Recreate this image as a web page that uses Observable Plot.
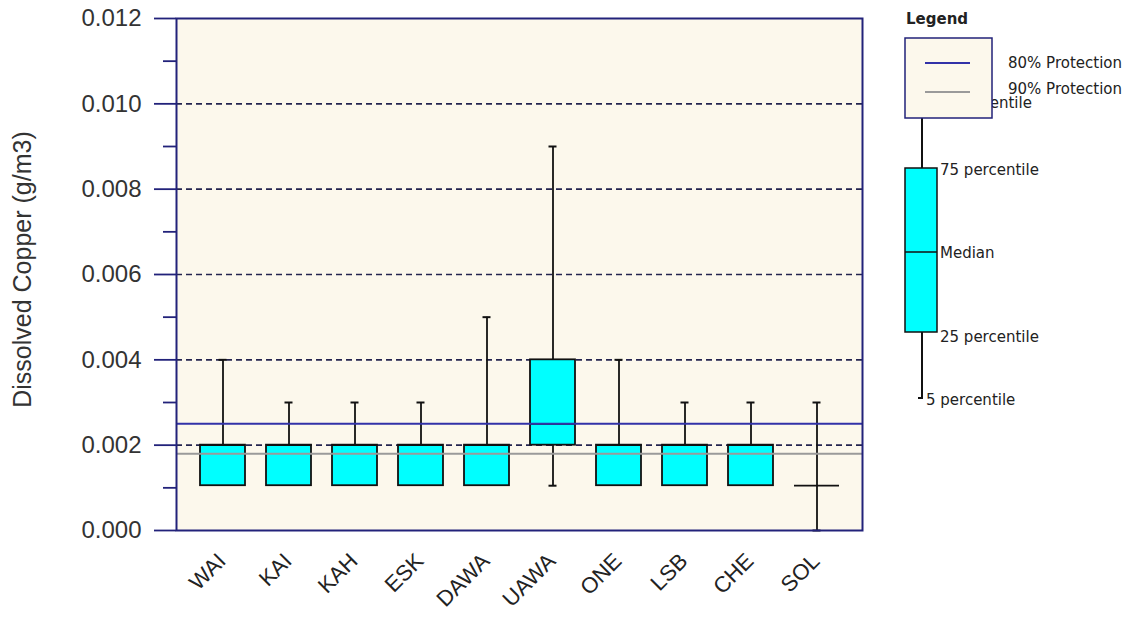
<!DOCTYPE html>
<html>
<head>
<meta charset="utf-8">
<script src="https://cdn.jsdelivr.net/npm/d3@7"></script>
<script src="https://cdn.jsdelivr.net/npm/@observablehq/plot@0.6"></script>
<style>
  html, body { margin: 0; padding: 0; background: #ffffff; }
  #wrap { position: relative; width: 1138px; height: 618px; font-family: "Liberation Sans", Arial, sans-serif; }
  #legend { position: absolute; left: 895px; top: 0px; }
</style>
</head>
<body>
<div id="wrap">
  <div id="chart"></div>
  <svg id="legend" width="243" height="420" font-family="DejaVu Sans, Verdana, sans-serif">
    <text x="11" y="24" font-size="15" font-weight="bold" fill="#222">Legend</text>
    <text x="38" y="108" font-size="15" fill="#222">95 percentile</text>
    <line x1="27" y1="118" x2="27" y2="398" stroke="#111" stroke-width="2"></line>
    <line x1="23" y1="398" x2="28" y2="398" stroke="#111" stroke-width="2"></line>
    <rect x="10" y="38" width="87" height="80" fill="#fcf8ec" stroke="#22227a" stroke-width="1.5"></rect>
    <line x1="30" y1="63" x2="75" y2="63" stroke="#3232a8" stroke-width="2"></line>
    <line x1="30" y1="92" x2="75" y2="92" stroke="#9a9a9a" stroke-width="2"></line>
    <text x="113" y="68" font-size="15" fill="#222">80% Protection</text>
    <text x="113" y="94" font-size="15" fill="#222">90% Protection</text>
    <rect x="10" y="168" width="32" height="164" fill="#00ffff" stroke="#111" stroke-width="1.5"></rect>
    <line x1="10" y1="252" x2="42" y2="252" stroke="#111" stroke-width="1.5"></line>
    <text x="45" y="175" font-size="15" fill="#222">75 percentile</text>
    <text x="45" y="258" font-size="15" fill="#222">Median</text>
    <text x="45" y="342" font-size="15" fill="#222">25 percentile</text>
    <text x="31" y="405" font-size="15" fill="#222">5 percentile</text>
  </svg>
</div>
<script>
// ---- data ----
const sites   = ["WAI", "KAI", "KAH", "ESK", "DAWA", "UAWA", "ONE", "LSB", "CHE", "SOL"];
const p5      = [0.00105, 0.00105, 0.00105, 0.00105, 0.00105, 0.00105, 0.00105, 0.00105, 0.00105, 0.0];
const q1      = [0.00105, 0.00105, 0.00105, 0.00105, 0.00105, 0.002, 0.00105, 0.00105, 0.00105, 0.00105];
const medians = [0.002, 0.002, 0.002, 0.002, 0.002, 0.0025, 0.002, 0.002, 0.002, 0.00105];
const q3      = [0.002, 0.002, 0.002, 0.002, 0.002, 0.004, 0.002, 0.002, 0.002, 0.00105];
const p95     = [0.004, 0.003, 0.003, 0.003, 0.005, 0.009, 0.004, 0.003, 0.003, 0.003];

const guideNames  = ["80% Protection", "90% Protection"];
const guideValues = [0.0025, 0.0018];
const guideColors = ["#3232a8", "#9a9a9a"];

const yMajorTicks = [0, 0.002, 0.004, 0.006, 0.008, 0.010, 0.012];
const yMinorTicks = [0.001, 0.003, 0.005, 0.007, 0.009, 0.011];
const gridValues  = [0.002, 0.004, 0.006, 0.008, 0.010];
const yLabel = "Dissolved Copper (g/m3)";

// ---- table ----
const boxes = sites.map((s, i) => ({site: s, p5: p5[i], q1: q1[i], median: medians[i], q3: q3[i], p95: p95[i]}));
const guides = guideNames.map((n, i) => ({name: n, value: guideValues[i], color: guideColors[i]}));

const navy = "#22227a";
const capInset = 18.5;

const chart = Plot.plot({
  width: 1138,
  height: 618,
  marginTop: 18,
  marginBottom: 88,
  marginLeft: 176,
  marginRight: 276,
  style: {fontFamily: "Liberation Sans, Arial, sans-serif", background: "transparent"},
  x: {type: "band", domain: sites, paddingInner: 0.32, paddingOuter: 0.325},
  y: {domain: [0, 0.012]},
  marks: [
    Plot.frame({fill: "#fcf8ec"}),
    Plot.ruleY(gridValues, {stroke: "#24244f", strokeWidth: 1.6, strokeDasharray: "6,4"}),
    // whiskers
    Plot.ruleX(boxes, {x: "site", y1: "p5", y2: "p95", stroke: "#111", strokeWidth: 1.8}),
    // boxes
    Plot.barY(boxes, {x: "site", y1: "q1", y2: "q3", fill: "#00ffff", stroke: "#111", strokeWidth: 1.8}),
    // medians
    Plot.tickY(boxes, {x: "site", y: "median", stroke: "#111", strokeWidth: 1.8}),
    // caps
    Plot.tickY(boxes.filter(d => d.p95 > d.q3), {x: "site", y: "p95", stroke: "#111", strokeWidth: 2, insetLeft: capInset, insetRight: capInset}),
    Plot.tickY(boxes.filter(d => d.p5 < d.q1), {x: "site", y: "p5", stroke: "#111", strokeWidth: 2, insetLeft: capInset, insetRight: capInset}),
    // protection levels
    Plot.ruleY(guides, {y: "value", stroke: "color", strokeWidth: 2}),
    // axes
    Plot.axisY({ticks: yMajorTicks, tickSize: 22, tickPadding: 13, fontSize: 24, tickFormat: d3.format(".3f"), label: null, stroke: navy, fill: "#333", strokeWidth: 1.8}),
    Plot.axisY({ticks: yMinorTicks, tickSize: 13, tickFormat: () => "", label: null, stroke: navy, strokeWidth: 1.8}),
    Plot.axisX({tickSize: 0, tickRotate: -45, tickPadding: 27, dx: -1, fontSize: 22, label: null, fill: "#222"}),
    Plot.text([yLabel], {frameAnchor: "left", textAnchor: "middle", rotate: -90, dx: -154, dy: -5, fontSize: 25, fill: "#333"}),
    Plot.frame({stroke: navy, strokeWidth: 2})
  ]
});
document.getElementById("chart").appendChild(chart);
</script>
</body>
</html>
